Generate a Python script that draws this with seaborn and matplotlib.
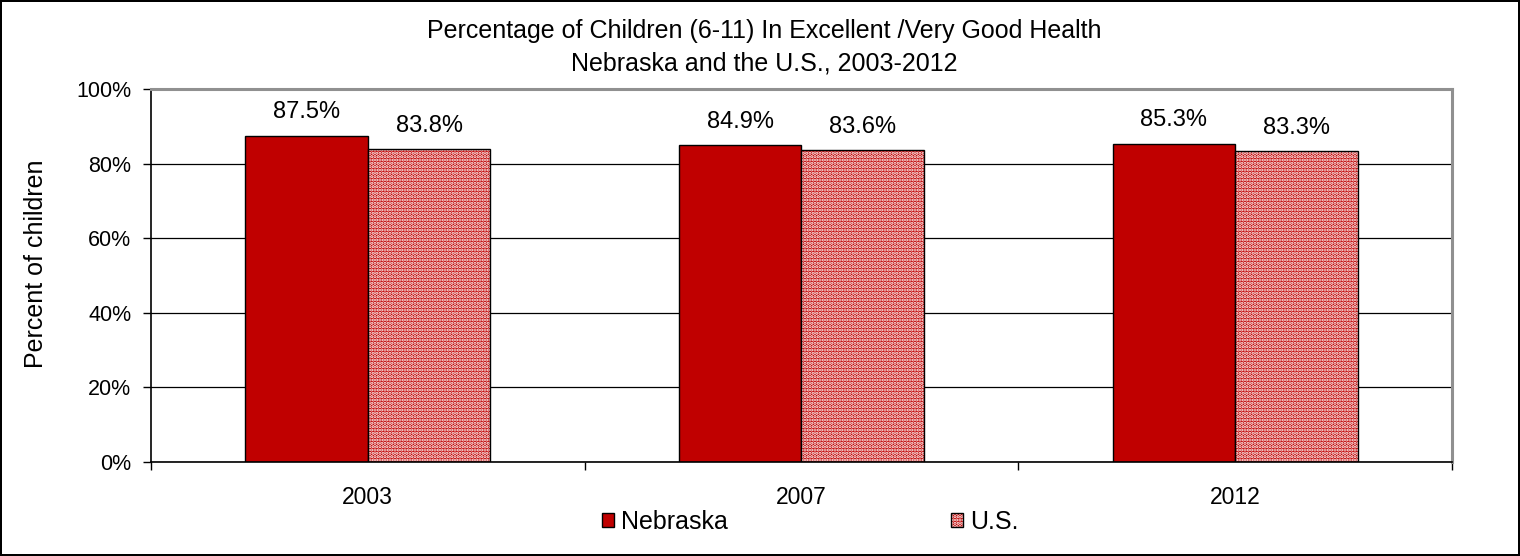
import matplotlib
matplotlib.use("Agg")
import matplotlib.pyplot as plt
import seaborn as sns
import pandas as pd
from matplotlib.patches import Rectangle
from matplotlib.ticker import FixedLocator, PercentFormatter

years = ["2003", "2007", "2012"]
series = ["Nebraska", "U.S."]
nebraska = [87.5, 84.9, 85.3]
us = [83.8, 83.6, 83.3]
yticks = [0, 20, 40, 60, 80, 100]

df = pd.DataFrame({
    "year": years * 2,
    "series": ["Nebraska"] * 3 + ["U.S."] * 3,
    "value": nebraska + us,
})

sns.set_theme(style="white")
plt.rcParams["font.family"] = ["Liberation Sans", "DejaVu Sans"]
plt.rcParams["hatch.linewidth"] = 1.6
for key in ["text.color", "axes.labelcolor", "xtick.color", "ytick.color"]:
    plt.rcParams[key] = "black"

RED = "#C00000"
HATCH = "....."
fig = plt.figure(figsize=(15.2, 5.56), dpi=100)
fig.patch.set_facecolor("white")
fig.patch.set_edgecolor("black")
fig.patch.set_linewidth(1.5)
ax = fig.add_axes([0.0993, 0.169, 0.856, 0.671])

sns.barplot(data=df, x="year", y="value", hue="series", order=years,
            hue_order=series, palette=[RED, RED], width=0.565,
            edgecolor="black", linewidth=1.0, saturation=1, ax=ax, legend=False)

n = len(years)
us_patches = ax.patches[n:2 * n]
for p in us_patches:
    p.set_hatch(HATCH)
    p.set_edgecolor("white")
    p.set_linewidth(0)
    ax.add_patch(Rectangle((p.get_x(), p.get_y()), p.get_width(), p.get_height(),
                           fill=False, edgecolor="black", linewidth=1.0,
                           zorder=p.get_zorder() + 0.1))

for p in ax.patches[:2 * n]:
    ax.annotate(f"{p.get_height():.1f}%", (p.get_x() + p.get_width() / 2, p.get_height()),
                xytext=(0, 12.5), textcoords="offset points", ha="center", va="baseline",
                fontsize=17, color="black")

ax.set_ylim(0, 100)
ax.set_xlim(-0.5, n - 0.5)
ax.set_yticks(yticks)
ax.yaxis.set_major_formatter(PercentFormatter(decimals=0))
ax.yaxis.grid(True, color="black", linewidth=0.9)
ax.set_axisbelow(True)
ax.tick_params(axis="y", which="major", length=6, width=1, color="black", direction="out",
               labelsize=15.5, pad=8, left=True, labelcolor="black")
ax.tick_params(axis="x", which="major", length=0, labelsize=16.5, pad=17, labelcolor="black")
ax.xaxis.set_minor_locator(FixedLocator([i - 0.5 for i in range(n + 1)]))
ax.tick_params(axis="x", which="minor", length=6, width=1, color="black", direction="out",
               bottom=True)
ax.set_xlabel("")
ax.set_ylabel("")
fig.text(0.0237, 0.525, "Percent of children", rotation=90, ha="center", va="center",
         fontsize=18, color="black")

for s in ["left", "bottom"]:
    ax.spines[s].set_color("black")
    ax.spines[s].set_linewidth(1.2)
for s in ["top", "right"]:
    ax.spines[s].set_color("#909090")
    ax.spines[s].set_linewidth(2.2)

fig.text(0.503, 1 - 38 / 556, "Percentage of Children (6-11) In Excellent /Very Good Health",
         ha="center", va="baseline", fontsize=18, color="black")
fig.text(0.503, 1 - 71 / 556, "Nebraska and the U.S., 2003-2012",
         ha="center", va="baseline", fontsize=18, color="black")

h1 = Rectangle((0, 0), 1, 1, facecolor=RED, edgecolor="black", linewidth=1)
h2a = Rectangle((0, 0), 1, 1, facecolor=RED, edgecolor="white", linewidth=0, hatch=HATCH)
h2b = Rectangle((0, 0), 1, 1, fill=False, edgecolor="black", linewidth=1)
leg = fig.legend([h1, (h2a, h2b)], series, loc="center", bbox_to_anchor=(0.533, 1 - 522 / 556),
                 ncol=2, frameon=False, fontsize=18, handlelength=0.5, handleheight=0.5,
                 handletextpad=0.27, columnspacing=8.9)
for t in leg.get_texts():
    t.set_color("black")

fig.savefig("out.png", dpi=100, facecolor="white", edgecolor="black")
